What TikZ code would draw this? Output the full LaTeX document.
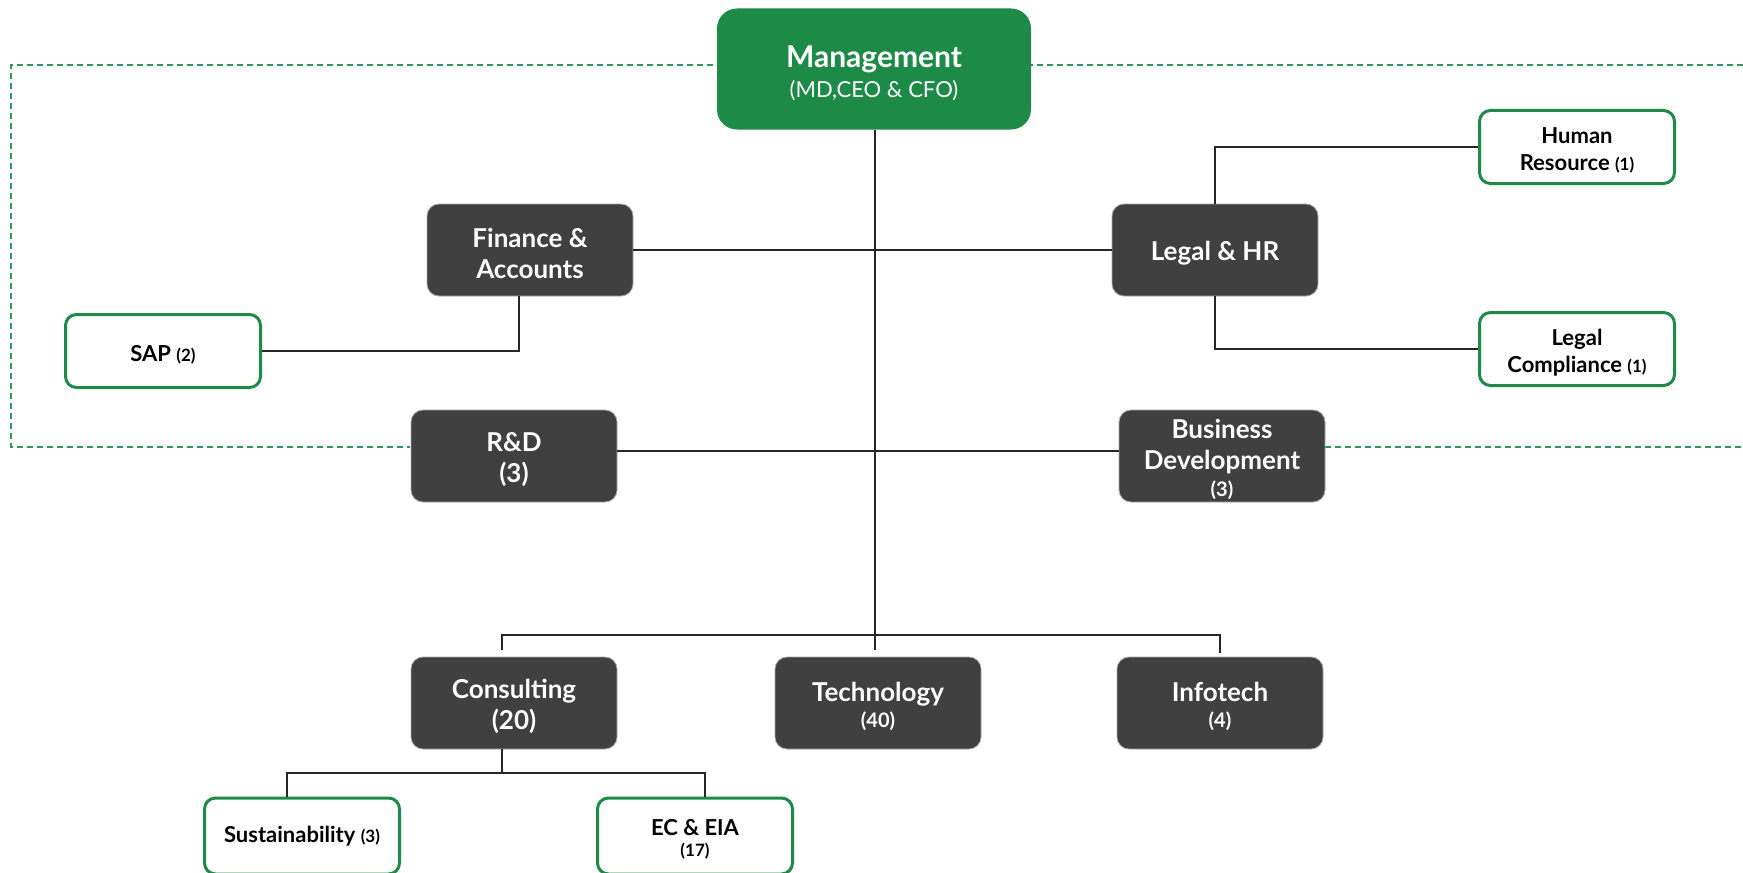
\documentclass[tikz,border=0pt]{standalone}
\usepackage{fontspec}
\setmainfont{Lato}
\definecolor{mgreen}{HTML}{1E8A48}
\definecolor{boxgray}{HTML}{404040}
\definecolor{framegreen}{HTML}{2E9A5A}
\newcommand{\fsz}[2]{\fontsize{#1}{#2}\selectfont}
\newcommand{\dstrut}{\rule{0pt}{13.2pt}}
\newcommand{\gstrut}{\rule{0pt}{11.6pt}}
\newcommand{\mstrut}{\rule{0pt}{15.6pt}}
\begin{document}
\begin{tikzpicture}[x=0.5pt,y=-0.5pt,
  darkbox/.style={draw=black!35, line width=0.4pt, fill=boxgray, rounded corners=6pt,
    minimum width=103pt, minimum height=46pt, inner sep=0pt, align=center,
    text=white, font=\bfseries\fsz{13}{15.5}},
  greenbox/.style={draw=mgreen, line width=1.5pt, fill=white, rounded corners=5.5pt,
    minimum width=97.5pt, minimum height=36.5pt, inner sep=0pt, align=center,
    text=black, font=\bfseries\fsz{11}{13.5}},
  mgmtbox/.style={fill=mgreen, rounded corners=10pt, minimum width=157pt,
    minimum height=60.5pt, inner sep=0pt, align=center, text=white, font=\fsz{15}{15}},
  conn/.style={draw=black!85, line width=0.6pt},
  frame/.style={draw=framegreen, line width=0.6pt, dash pattern=on 3pt off 2pt}]

\useasboundingbox (0,0) rectangle (1743,872);

% dashed frame (behind nodes)
\draw[frame] (1743,65) -- (11,65) -- (11,447) -- (410,447);
\draw[frame] (1325,447) -- (1743,447);

% nodes
\node[mgmtbox] (mgmt) at (874,69) {\mstrut{\bfseries Management}\\{\fsz{11}{15}(MD,CEO \& CFO)}};

\node[darkbox] (fin) at (530,250) {\dstrut Finance \&\\Accounts};
\node[darkbox] (legal) at (1215,250) {\dstrut Legal \& HR};
\node[greenbox] (hr) at (1577,147) {\gstrut Human\\Resource {\fsz{8.5}{10}(1)}};
\node[greenbox] (lc) at (1577,349) {\gstrut Legal\\Compliance {\fsz{8.5}{10}(1)}};
\node[greenbox] (sap) at (163,351) {\gstrut SAP {\fsz{8.5}{10}(2)}};

\node[darkbox] (rd) at (514,456) {\dstrut R\&D\\(3)};
\node[darkbox] (bd) at (1222,456) {\dstrut Business\\Development\\[-2pt]{\fsz{10}{12}(3)}};

\node[darkbox] (cons) at (514,703) {\dstrut Consulting\\(20)};
\node[darkbox] (tech) at (878,703) {\dstrut Technology\\[-2.75pt]{\fsz{10}{12}(40)}};
\node[darkbox] (info) at (1220,703) {\dstrut Infotech\\[-2.75pt]{\fsz{10}{12}(4)}};

\node[greenbox, minimum height=38pt] (sus) at (302,836) {Sustainability {\fsz{8.5}{10}(3)}};
\node[greenbox, minimum height=38pt, font=\bfseries\fsz{11}{12}] (eia) at (695,836) {\gstrut EC \& EIA\\[-1.5pt]{\fsz{8.5}{10}(17)}};

% connectors
\coordinate (bar) at (875,635);
\coordinate (cbar) at (501,773);
\draw[conn] (mgmt.south -| bar) -- ([yshift=3.5pt]tech.north -| bar);
\draw[conn] ([xshift=-6pt,yshift=3.5pt]cons.north) -- ([xshift=-6pt]cons.north |- bar)
  -- (info.north |- bar) -- ([yshift=2pt]info.north);
\draw[conn] (fin.east) -- (legal.west);
\draw[conn] ([xshift=-5.5pt]fin.south) |- (sap.east);
\draw[conn] (legal.north) |- (hr.west);
\draw[conn] (legal.south) |- (lc.west);
\draw[conn] ([yshift=2.5pt]rd.east) -- ([yshift=2.5pt]bd.west);
\draw[conn] ([xshift=-6pt]cons.south) -- ([xshift=-6pt]cons.south |- cbar);
\draw[conn] ([xshift=-7.5pt]sus.north) |- ([xshift=5pt]eia.north |- cbar) -- ([xshift=5pt]eia.north);
\end{tikzpicture}
\end{document}
